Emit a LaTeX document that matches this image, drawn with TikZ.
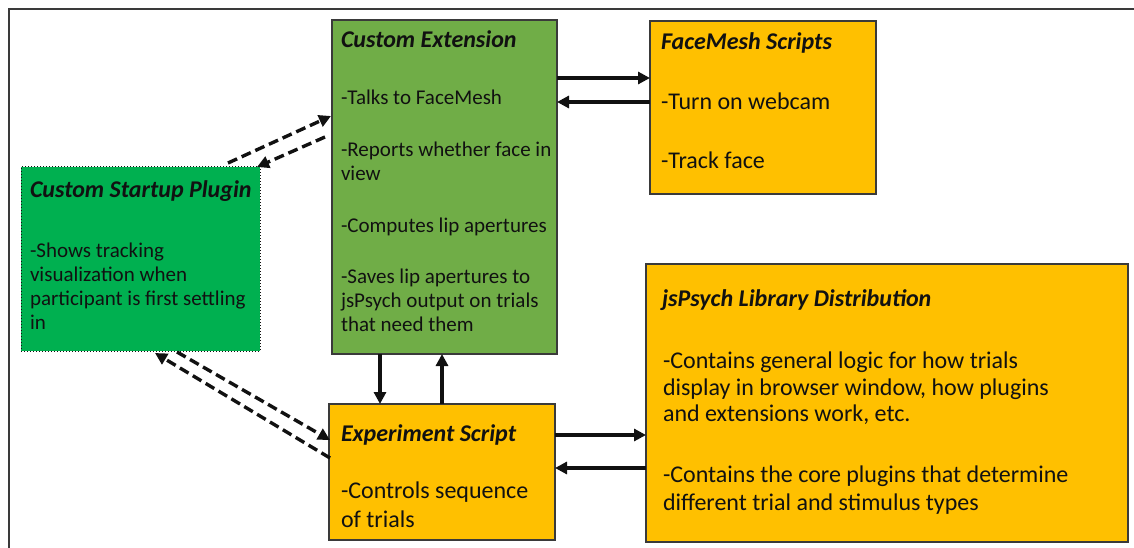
\documentclass[tikz,border=0pt]{standalone}
\usepackage{fontspec}
\setmainfont{Carlito}
\usetikzlibrary{arrows.meta,calc}
\definecolor{extgreen}{HTML}{70AD47}
\definecolor{sugreen}{HTML}{00B050}
\definecolor{boxorange}{HTML}{FFC000}
\definecolor{edge}{HTML}{3A3A3A}
\definecolor{ink}{HTML}{111111}
\newcommand\tl[4]{\node[lbl,anchor=base west] (#1) at (#2,#3) {#4};}
\newcommand\ttlfont{\fontsize{24}{28}\selectfont\bfseries\itshape}
\newcommand\smallbody{\fontsize{21}{24}\selectfont}
\newcommand\bigbody{\fontsize{24}{28}\selectfont}
\begin{document}
\begin{tikzpicture}[x=1pt,y=-1pt,
  box/.style={draw=edge,line width=1.5pt,inner sep=0pt,outer sep=0pt,anchor=north west},
  lbl/.style={inner sep=0pt,outer sep=0pt,text=ink},
  arr/.style={line width=3.2pt,ink,-{Triangle[length=12pt,width=12pt]}},
  darr/.style={line width=3.4pt,ink,dash pattern=on 10pt off 5pt,-{Triangle[length=12pt,width=12pt]}}]
\useasboundingbox (0,0) rectangle (1134,548);
% frame (cropped)
\draw[edge,line width=1.3pt] (9,560) -- (9,9) -- (1140,9);
% boxes
\node[box,fill=extgreen,minimum width=225pt,minimum height=334pt] (ext) at (332,20) {};
\node[box,fill=boxorange,minimum width=226pt,minimum height=173pt] (fm) at (650,21) {};
\node[box,fill=sugreen,draw=ink,line width=1pt,dotted,minimum width=239pt,minimum height=184pt] (su) at (21,167) {};
\node[box,fill=boxorange,minimum width=226pt,minimum height=136pt] (exp) at (329,404) {};
\node[box,fill=boxorange,minimum width=482pt,minimum height=278pt] (js) at (646,264) {};
% Custom Extension text
\tl{ext0}{341}{48}{\ttlfont Custom Extension}
\tl{ext1}{341}{105}{\smallbody -Talks to FaceMesh}
\tl{ext2}{341}{157}{\smallbody -Reports whether face in}
\tl{ext3}{341}{181}{\smallbody view}
\tl{ext4}{341}{232}{\smallbody -Computes lip apertures}
\tl{ext5}{341}{283}{\smallbody -Saves lip apertures to}
\tl{ext6}{341}{307}{\smallbody jsPsych output on trials}
\tl{ext7}{341}{331}{\smallbody that need them}
% FaceMesh text
\tl{fm0}{661}{50}{\ttlfont FaceMesh Scripts}
\tl{fm1}{661}{110}{\bigbody -Turn on webcam}
\tl{fm2}{661}{168}{\bigbody -Track face}
% Startup text
\tl{su0}{30}{197}{\ttlfont Custom Startup Plugin}
\tl{su1}{30}{257}{\smallbody -Shows tracking}
\tl{su2}{30}{281}{\smallbody visualization when}
\tl{su3}{30}{305}{\smallbody participant is first settling}
\tl{su4}{30}{329}{\smallbody in}
% Experiment text
\tl{exp0}{341}{441}{\ttlfont Experiment Script}
\tl{exp1}{341}{498}{\bigbody -Controls sequence}
\tl{exp2}{341}{527}{\bigbody of trials}
% jsPsych text
\tl{js0}{662}{306}{\ttlfont jsPsych Library Distribution}
\tl{js1}{663}{368}{\bigbody -Contains general logic for how trials}
\tl{js2}{663}{395}{\bigbody display in browser window, how plugins}
\tl{js3}{663}{421}{\bigbody and extensions work, etc.}
\tl{js4}{663}{482}{\bigbody -Contains the core plugins that determine}
\tl{js5}{663}{510}{\bigbody different trial and stimulus types}
% solid connectors
\draw[arr] (ext.east |- 0,78) -- (fm.west |- 0,78);
\draw[arr] (fm.west |- 0,102) -- (ext.east |- 0,102);
\draw[arr] (exp.east |- 0,435) -- (js.west |- 0,435);
\draw[arr] (js.west |- 0,468) -- (exp.east |- 0,468);
\draw[arr] (ext.south -| 380,0) -- (exp.north -| 380,0);
\draw[arr] (exp.north -| 442,0) -- (ext.south -| 442,0);
% dashed connectors
\draw[darr] ($(su.north east)+(-32,-4)$) -- ($(ext.north west)+(-1,96)$);
\draw[darr] ($(ext.north west)+(-7,117)$) -- ($(su.north east)+(-3,0)$);
\draw[darr] ($(su.south west)+(156,1)$) -- ($(exp.north west)+(1,36)$);
\draw[darr] ($(exp.north west)+(1,54)$) -- ($(su.south west)+(134,2)$);
\end{tikzpicture}
\end{document}
